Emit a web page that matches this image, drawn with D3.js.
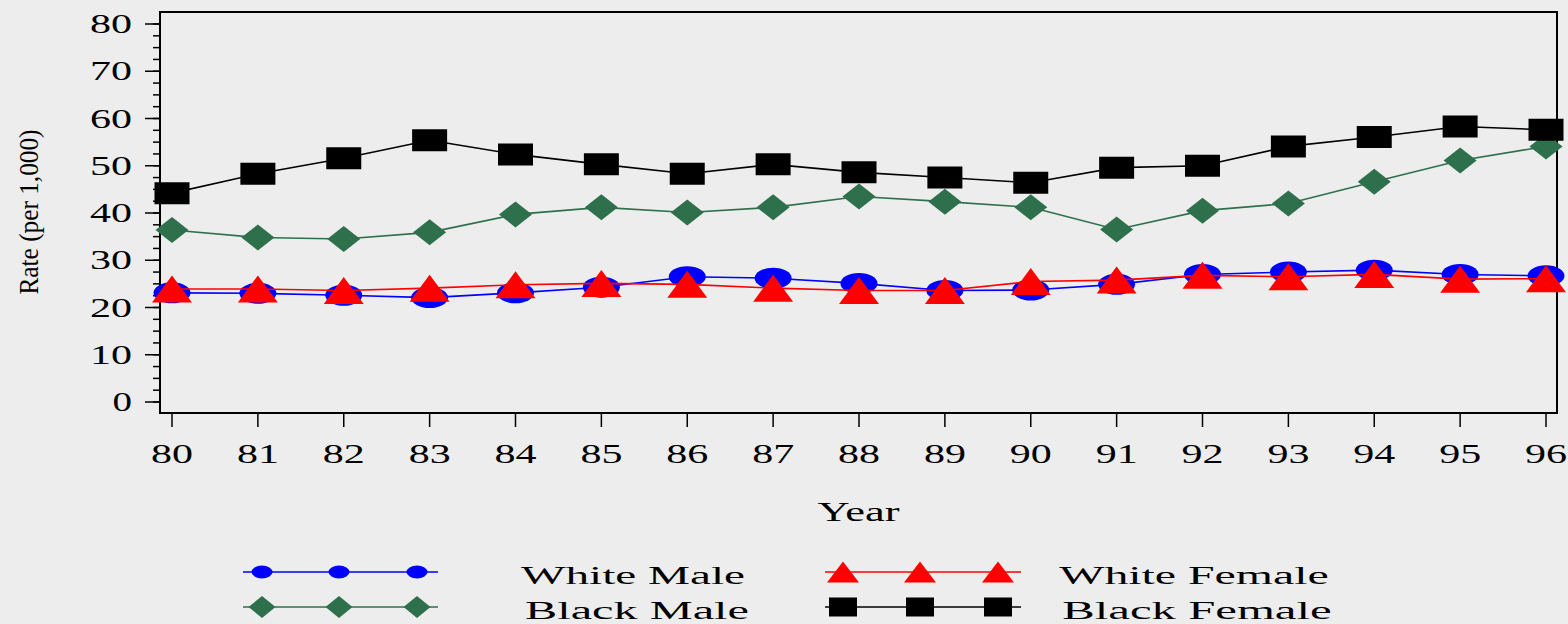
<!DOCTYPE html>
<html>
<head>
<meta charset="utf-8">
<script src="https://cdn.jsdelivr.net/npm/d3@7"></script>
<style>
  html, body { margin: 0; padding: 0; background: #ededed; }
  svg { display: block; }
  text { font-family: "Liberation Serif", "DejaVu Serif", serif; fill: #000; }
</style>
</head>
<body>
<svg id="chart" width="1568" height="624"></svg>
<script>
// ---------------- data ----------------
const years = [80, 81, 82, 83, 84, 85, 86, 87, 88, 89, 90, 91, 92, 93, 94, 95, 96];
const whiteMale   = [23.1, 23.0, 22.6, 22.1, 23.1, 24.3, 26.5, 26.2, 25.1, 23.6, 23.7, 24.9, 27.0, 27.5, 27.9, 27.0, 26.7];
const blackMale   = [36.4, 34.8, 34.5, 35.9, 39.7, 41.2, 40.1, 41.2, 43.5, 42.4, 41.2, 36.5, 40.5, 42.0, 46.6, 51.1, 54.1];
const whiteFemale = [23.9, 23.9, 23.6, 24.1, 24.8, 25.1, 24.9, 24.1, 23.6, 23.6, 25.5, 25.8, 26.8, 26.5, 27.0, 26.0, 26.1];
const blackFemale = [44.2, 48.3, 51.6, 55.4, 52.4, 50.3, 48.3, 50.3, 48.6, 47.5, 46.4, 49.6, 50.0, 54.1, 56.1, 58.3, 57.6];
const yTicks = [0, 10, 20, 30, 40, 50, 60, 70, 80];
const yMinorTicks = d3.range(0, 80.01, 2.5);
const seriesNames = ["White Male", "Black Male", "White Female", "Black Female"];
const yTitle = "Rate (per 1,000)";
const xTitle = "Year";

// ---------------- layout ----------------
const svg = d3.select("#chart");
const frame = { left: 160, right: 1557, top: 12, bottom: 413 };
const x = d3.scaleLinear().domain([80, 96]).range([172, 1546]);
const y = d3.scaleLinear().domain([0, 80]).range([402, 24]);

const series = [
  { name: seriesNames[0], values: whiteMale,   color: "#0000ff", shape: "ellipse",  w: 37, h: 21, lw: 21, lh: 13 },
  { name: seriesNames[1], values: blackMale,   color: "#2e704c", shape: "diamond",  w: 33, h: 26, lw: 27, lh: 22 },
  { name: seriesNames[2], values: whiteFemale, color: "#ff0000", shape: "triangle", w: 40, h: 27, lw: 32, lh: 21 },
  { name: seriesNames[3], values: blackFemale, color: "#000000", shape: "square",   w: 35, h: 22, lw: 28, lh: 19 }
];

function markerPath(shape, w, h) {
  const a = w / 2, b = h / 2;
  if (shape === "square") return `M${-a},${-b}H${a}V${b}H${-a}Z`;
  if (shape === "diamond") return `M0,${-b}L${a},0L0,${b}L${-a},0Z`;
  if (shape === "triangle") return `M0,${-b}L${a},${b}L${-a},${b}Z`;
  // ellipse approximated with arcs
  return `M${-a},0A${a},${b} 0 1,0 ${a},0A${a},${b} 0 1,0 ${-a},0Z`;
}

// ---------------- frame & axes ----------------
svg.append("rect")
  .attr("x", frame.left).attr("y", frame.top)
  .attr("width", frame.right - frame.left).attr("height", frame.bottom - frame.top)
  .attr("fill", "none").attr("stroke", "#000").attr("stroke-width", 2);

// y minor ticks
svg.append("g").selectAll("line").data(yMinorTicks).join("line")
  .attr("x1", frame.left - 7).attr("x2", frame.left)
  .attr("y1", d => y(d)).attr("y2", d => y(d))
  .attr("stroke", "#000").attr("stroke-width", 1.5);
// y major ticks
svg.append("g").selectAll("line").data(yTicks).join("line")
  .attr("x1", frame.left - 15).attr("x2", frame.left)
  .attr("y1", d => y(d)).attr("y2", d => y(d))
  .attr("stroke", "#000").attr("stroke-width", 1.5);
// y tick labels
svg.append("g").selectAll("text").data(yTicks).join("text")
  .attr("x", 132).attr("y", d => y(d) + 9)
  .attr("text-anchor", "end")
  .attr("font-size", 27)
  .attr("textLength", d => String(d).length * 22.5 - 3)
  .attr("lengthAdjust", "spacingAndGlyphs")
  .text(d => d);

// x ticks
svg.append("g").selectAll("line").data(years).join("line")
  .attr("x1", d => x(d)).attr("x2", d => x(d))
  .attr("y1", frame.bottom).attr("y2", frame.bottom + 14)
  .attr("stroke", "#000").attr("stroke-width", 1.5);
svg.append("g").selectAll("text").data(years).join("text")
  .attr("x", d => x(d)).attr("y", 463)
  .attr("text-anchor", "middle")
  .attr("font-size", 27)
  .attr("textLength", 42)
  .attr("lengthAdjust", "spacingAndGlyphs")
  .text(d => d);

// axis titles
svg.append("text")
  .attr("x", (frame.left + frame.right) / 2).attr("y", 521)
  .attr("text-anchor", "middle")
  .attr("font-size", 28)
  .attr("textLength", 82)
  .attr("lengthAdjust", "spacingAndGlyphs")
  .text(xTitle);

svg.append("text")
  .attr("transform", "translate(38,212) rotate(-90)")
  .attr("text-anchor", "middle")
  .attr("font-size", 28)
  .attr("textLength", 165)
  .attr("lengthAdjust", "spacingAndGlyphs")
  .text(yTitle);

// ---------------- series ----------------
const line = d3.line().x(d => x(d[0])).y(d => y(d[1]));
series.forEach(s => {
  const pts = years.map((yr, i) => [yr, s.values[i]]);
  const g = svg.append("g");
  g.append("path").attr("d", line(pts))
    .attr("fill", "none").attr("stroke", s.color).attr("stroke-width", 1.6);
  g.selectAll("path.m").data(pts).join("path").attr("class", "m")
    .attr("transform", d => `translate(${x(d[0])},${y(d[1])})`)
    .attr("d", markerPath(s.shape, s.w, s.h))
    .attr("fill", s.color);
});

// ---------------- legend ----------------
const legendPos = [
  { lx0: 243, lx1: 438, mx: [262, 339, 417], ty: 572, tx: 633 },
  { lx0: 243, lx1: 438, mx: [262, 339, 417], ty: 607, tx: 637 },
  { lx0: 825, lx1: 1021, mx: [843, 920, 998], ty: 572, tx: 1194 },
  { lx0: 825, lx1: 1021, mx: [843, 920, 998], ty: 607, tx: 1197 }
];
series.forEach((s, i) => {
  const p = legendPos[i];
  const g = svg.append("g");
  g.append("line").attr("x1", p.lx0).attr("x2", p.lx1).attr("y1", p.ty).attr("y2", p.ty)
    .attr("stroke", s.color).attr("stroke-width", 1.6);
  g.selectAll("path").data(p.mx).join("path")
    .attr("transform", d => `translate(${d},${p.ty})`)
    .attr("d", markerPath(s.shape, s.lw, s.lh))
    .attr("fill", s.color);
  g.append("text")
    .attr("x", p.tx).attr("y", p.ty + 12)
    .attr("text-anchor", "middle")
    .attr("font-size", 26)
    .attr("textLength", s.name.length * 22.7 - 3)
    .attr("lengthAdjust", "spacingAndGlyphs")
    .text(s.name);
});
</script>
</body>
</html>
